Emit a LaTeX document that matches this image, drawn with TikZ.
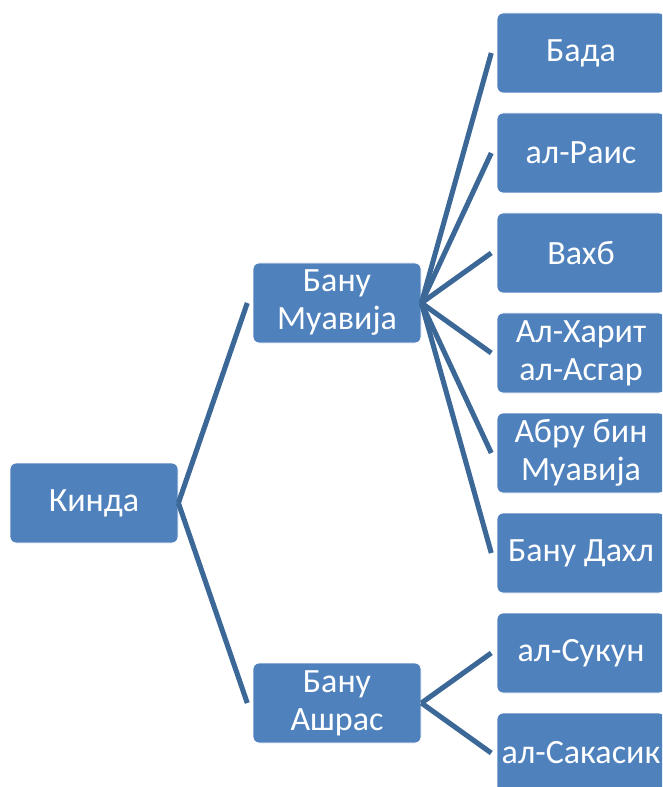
\documentclass[tikz,border=0pt]{standalone}
\usepackage{fontspec}
\setmainfont{Carlito}
\definecolor{boxBlue}{HTML}{4F81BD}
\definecolor{lineBlue}{HTML}{3C6898}
\begin{document}
\begin{tikzpicture}[
    x=0.75pt, y=-0.75pt,
    % 定义统一的方框与连线样式
    box_style/.style={fill=boxBlue, draw=white, line width=0.6pt, rounded corners=4.5pt,
        minimum width=126pt, minimum height=60pt, inner sep=0pt, align=center,
        text=white, font=\fontsize{25.5}{28.5}\selectfont},
    link_style/.style={draw=lineBlue, line width=3.8pt}
]
    \useasboundingbox (0,0) rectangle (662,787);
    \clip (0,0) rectangle (662,787);

    % --- 第一、二层 ---
    \node[box_style] (kinda) at (94,503) {Кинда};
    \node[box_style] (muavija) at (337,303) {Бану\\Муавија};
    \node[box_style] (ashras) at (337,703) {Бану\\Ашрас};
    \draw[link_style] (kinda.east) -- ([xshift=-4pt]muavija.west);
    \draw[link_style] (kinda.east) -- ([xshift=-4pt]ashras.west);

    % --- 第三层 (Бану Муавија) ---
    \foreach \name/\txt [count=\i] in {bada/Бада, rais/ал-Раис, vahb/Вахб,
        harit/{Ал-Харит\\ал-Асгар}, abru/{Абру бин\\Муавија}, dahl/Бану Дахл} {
        \node[box_style] (\name) at (581,-47+100*\i) {\txt};
        \draw[link_style] (muavija.east) -- ([xshift=-4pt]\name.west);
    }

    % --- 第三层 (Бану Ашрас) ---
    \foreach \name/\txt [count=\i] in {sukun/ал-Сукун, sakasik/ал-Сакасик} {
        \node[box_style] (\name) at (581,553+100*\i) {\txt};
        \draw[link_style] (ashras.east) -- ([xshift=-4pt]\name.west);
    }

\end{tikzpicture}
\end{document}
